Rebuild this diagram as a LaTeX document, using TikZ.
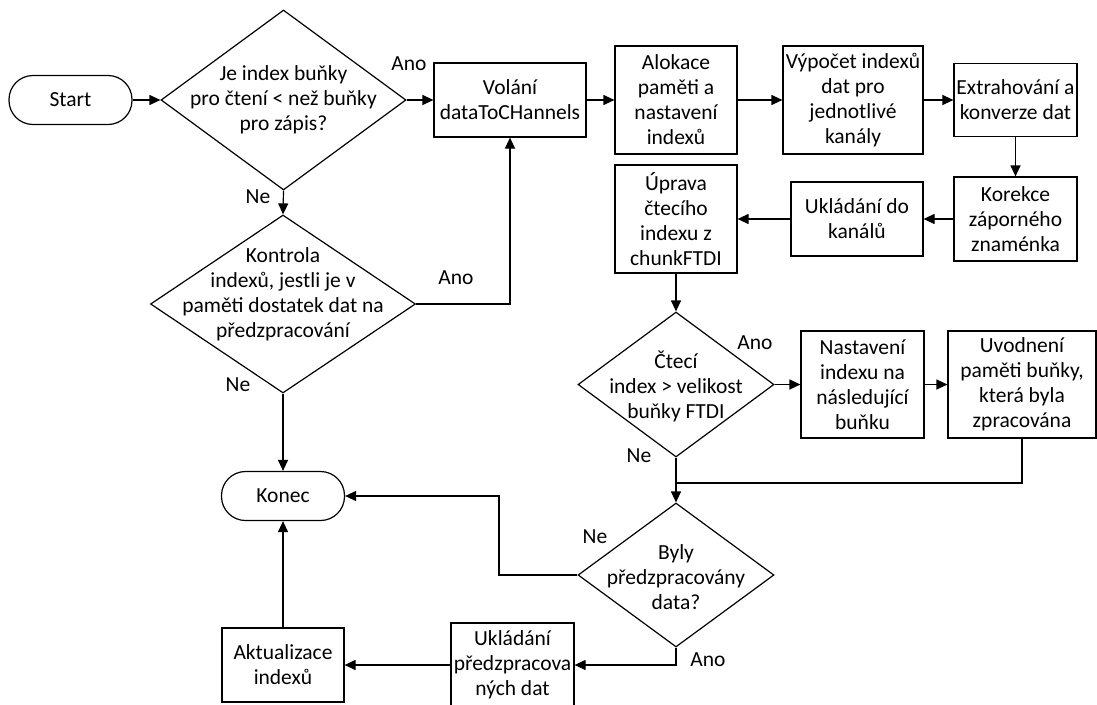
\documentclass[tikz,border=0pt]{standalone}
\usepackage{fontspec}
\setmainfont{Carlito}
\usetikzlibrary{shapes.geometric,arrows.meta}
\begin{document}
\begin{tikzpicture}[x=1pt,y=-1pt,
  font=\fontsize{21.5}{25}\selectfont,
  line width=1.2pt,
  >={Triangle[length=11pt,width=10pt]},
  box/.style={draw, align=center, inner sep=0pt},
  term/.style={draw, rounded corners=24pt, minimum width=123pt, minimum height=49pt, inner sep=0pt},
  diam/.style={draw, diamond, inner sep=0pt},
  txt/.style={align=center, inner sep=0pt},
  lbl/.style={inner sep=0pt}]
\useasboundingbox (0,0) rectangle (1097,704);
% terminals
\node[term] (start) at (70.5,100) {Start};
\node[term] (konec) at (283,496) {Konec};
% diamonds
\node[diam, minimum width=245pt, minimum height=180pt] (d1) at (283.5,100) {};
\node[txt] (d1t) at (283.5,100) {Je index buňky\\pro čtení < než buňky\\pro zápis?};
\node[diam, minimum width=265pt, minimum height=178pt] (d2) at (283,304) {};
\node[txt] (d2t) at (283,294) {Kontrola\\indexů, jestli je v\\paměti dostatek dat na\\předzpracování};
\node[diam, minimum width=196pt, minimum height=145pt] (d3) at (676,384.5) {};
\node[txt] (d3t) at (676,386) {Čtecí\\index > velikost\\buňky FTDI};
\node[diam, minimum width=196pt, minimum height=144pt] (d4) at (676,575) {};
\node[txt] (d4t) at (676,577) {Byly\\předzpracovány\\data?};
% boxes
\node[box, minimum width=152pt, minimum height=74pt] (vol) at (510,100) {Volání\\dataToCHannels};
\node[box, minimum width=122pt, minimum height=108pt] (alo) at (676,100) {Alokace\\paměti a\\nastavení\\indexů};
\node[box, minimum width=140pt, minimum height=108pt] (vyp) at (853,100) {Výpočet indexů\\dat pro\\jednotlivé\\kanály};
\node[box, minimum width=123pt, minimum height=73pt] (ext) at (1015.5,100) {Extrahování a\\konverze dat};
\node[box, minimum width=123pt, minimum height=84pt] (kor) at (1015.5,219) {Korekce\\záporného\\znaménka};
\node[box, minimum width=132pt, minimum height=74pt] (ukl) at (857,219) {Ukládání do\\kanálů};
\node[box, minimum width=122pt, minimum height=108pt] (upr) at (676,219) {Úprava\\čtecího\\indexu z\\chunkFTDI};
\node[box, minimum width=123pt, minimum height=107pt] (nas) at (862.5,384.5) {Nastavení\\indexu na\\následující\\buňku};
\node[box, minimum width=148pt, minimum height=107pt] (uvo) at (1022,384.5) {Uvodnení\\paměti buňky,\\která byla\\zpracována};
\node[box, minimum width=123pt, minimum height=84pt] (ulp) at (512.5,665) {Ukládání\\předzpracova\\ných dat};
\node[box, minimum width=122pt, minimum height=74pt] (akt) at (283,665) {Aktualizace\\indexů};
% labels
\node[lbl] (l1) at (409,64) {Ano};
\node[lbl] (l2) at (258,197) {Ne};
\node[lbl] (l3) at (456,278) {Ano};
\node[lbl] (l4) at (238,385) {Ne};
\node[lbl] (l5) at (755,343) {Ano};
\node[lbl] (l6) at (639,456) {Ne};
\node[lbl] (l7) at (595,537) {Ne};
\node[lbl] (l8) at (708,660) {Ano};
% connectors
\draw[->] (start) -- (d1);
\draw[->] (d1.east) -- (vol.west);
\draw[->] (d1.south) -- (d2.north);
\draw[->] (d2.east) -| (vol.south);
\draw[->] (d2.south) -- (konec.north);
\draw[->] (vol) -- (alo);
\draw[->] (alo) -- (vyp);
\draw[->] (vyp.east |- ext.west) -- (ext.west);
\draw[->] (ext.south) -- (kor.north);
\draw[->] (kor.west) -- (ukl.east);
\draw[->] (ukl.west) -- (upr.east);
\draw[->] (upr.south) -- (d3.north);
\draw[->] (d3.east) -- (d3.east -| nas.west);
\draw[->] (nas.east) -- (nas.east -| uvo.west);
\coordinate (j) at (676,483);
\draw (uvo.south) |- (j);
\draw[->] (d3.south) -- (d4.north);
\draw[->] (d4.west) -- (499,575) |- (konec.east);
\draw[->] (d4.south) |- (ulp.east);
\draw[->] (ulp.west) -- (akt.east);
\draw[->] (akt.north) -- (konec.south);
\end{tikzpicture}
\end{document}
